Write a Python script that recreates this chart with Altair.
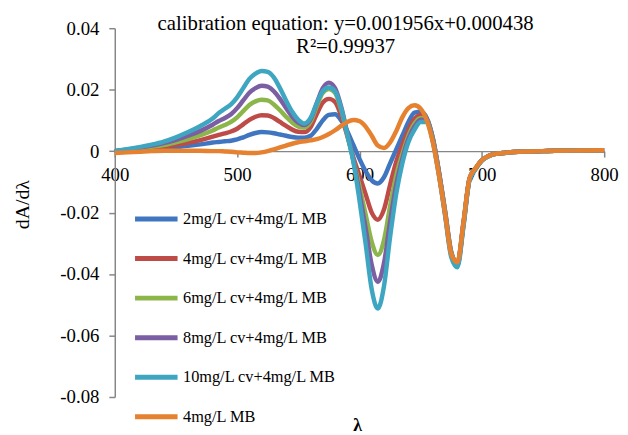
import altair as alt
import pandas as pd

wavelength = [400, 410, 420, 430, 440, 450, 460, 470, 480,
              485, 490, 495, 500, 505, 510, 515, 520, 525, 530,
              535, 540, 545, 550, 555, 560, 565, 570, 575, 580,
              585, 590, 595, 600, 605, 610, 615, 620, 625, 630,
              635, 640, 645, 650, 655, 660, 665, 670, 675, 680,
              685, 690, 695, 700, 705, 710,
              720, 730, 740, 750, 760, 780, 800]

cv2 = [0.0000, 0.0002, 0.0004, 0.0006, 0.0009, 0.0013, 0.0017, 0.0022, 0.0028,
       0.0030, 0.0032, 0.0034, 0.0038, 0.0045, 0.0053, 0.0059, 0.0062, 0.0061, 0.0058,
       0.0054, 0.0050, 0.0046, 0.0044, 0.0044, 0.0050, 0.0072, 0.0100, 0.0118, 0.0120,
       0.0100, 0.0065, 0.0020, -0.0025, -0.0065, -0.0095, -0.0105, -0.0085, -0.0040, 0.0005,
       0.0050, 0.0095, 0.0125, 0.0128, 0.0108, 0.0042, -0.0068, -0.0195, -0.0328, -0.0365,
       -0.0232, -0.0088, -0.0055, -0.0030, -0.0017, -0.0010,
       -0.0005, -0.0002, -0.0001, 0.0000, 0.0001, 0.0002, 0.0003]

cv4 = [0.0000, 0.0003, 0.0006, 0.0010, 0.0014, 0.0020, 0.0027, 0.0036, 0.0047,
       0.0053, 0.0058, 0.0064, 0.0073, 0.0087, 0.0102, 0.0112, 0.0117, 0.0116, 0.0108,
       0.0095, 0.0082, 0.0070, 0.0063, 0.0062, 0.0078, 0.0120, 0.0158, 0.0170, 0.0160,
       0.0115, 0.0050, -0.0020, -0.0080, -0.0140, -0.0200, -0.0223, -0.0190, -0.0110, -0.0035,
       0.0020, 0.0070, 0.0105, 0.0118, 0.0103, 0.0040, -0.0070, -0.0198, -0.0330, -0.0366,
       -0.0235, -0.0089, -0.0056, -0.0030, -0.0017, -0.0010,
       -0.0005, -0.0002, -0.0001, 0.0000, 0.0001, 0.0002, 0.0003]

cv6 = [0.0000, 0.0004, 0.0009, 0.0014, 0.0020, 0.0029, 0.0039, 0.0052, 0.0067,
       0.0077, 0.0085, 0.0095, 0.0110, 0.0130, 0.0150, 0.0162, 0.0167, 0.0165, 0.0152,
       0.0133, 0.0112, 0.0093, 0.0080, 0.0077, 0.0095, 0.0145, 0.0190, 0.0202, 0.0190,
       0.0135, 0.0055, -0.0030, -0.0115, -0.0205, -0.0295, -0.0338, -0.0290, -0.0180, -0.0080,
       -0.0010, 0.0050, 0.0090, 0.0108, 0.0100, 0.0038, -0.0072, -0.0200, -0.0332, -0.0368,
       -0.0237, -0.0090, -0.0056, -0.0030, -0.0017, -0.0010,
       -0.0005, -0.0002, -0.0001, 0.0000, 0.0001, 0.0002, 0.0003]

cv8 = [0.0000, 0.0005, 0.0011, 0.0018, 0.0026, 0.0037, 0.0050, 0.0066, 0.0086,
       0.0098, 0.0108, 0.0120, 0.0140, 0.0165, 0.0190, 0.0205, 0.0213, 0.0210, 0.0195,
       0.0170, 0.0140, 0.0112, 0.0093, 0.0085, 0.0103, 0.0155, 0.0205, 0.0223, 0.0205,
       0.0145, 0.0060, -0.0030, -0.0135, -0.0250, -0.0370, -0.0425, -0.0365, -0.0230, -0.0110,
       -0.0025, 0.0040, 0.0080, 0.0102, 0.0098, 0.0035, -0.0075, -0.0205, -0.0338, -0.0372,
       -0.0240, -0.0091, -0.0057, -0.0030, -0.0017, -0.0010,
       -0.0005, -0.0002, -0.0001, 0.0000, 0.0001, 0.0002, 0.0003]

cv10 = [0.0000, 0.0006, 0.0013, 0.0021, 0.0031, 0.0045, 0.0062, 0.0082, 0.0106,
        0.0124, 0.0138, 0.0152, 0.0175, 0.0205, 0.0235, 0.0252, 0.0261, 0.0258, 0.0240,
        0.0205, 0.0165, 0.0128, 0.0102, 0.0090, 0.0108, 0.0155, 0.0195, 0.0207, 0.0195,
        0.0140, 0.0055, -0.0035, -0.0160, -0.0300, -0.0450, -0.0512, -0.0440, -0.0280, -0.0140,
        -0.0040, 0.0030, 0.0070, 0.0095, 0.0095, 0.0030, -0.0080, -0.0210, -0.0345, -0.0378,
        -0.0245, -0.0093, -0.0058, -0.0031, -0.0018, -0.0010,
        -0.0005, -0.0002, -0.0001, 0.0000, 0.0001, 0.0002, 0.0003]

mb4 = [-0.0006, -0.0004, -0.0002, 0.0000, 0.0001, 0.0001, 0.0001, 0.0001, 0.0000,
       0.0000, -0.0001, -0.0002, -0.0004, -0.0005, -0.0006, -0.0006, -0.0004, 0.0000, 0.0006,
       0.0012, 0.0018, 0.0024, 0.0029, 0.0032, 0.0035, 0.0039, 0.0046, 0.0056, 0.0068,
       0.0082, 0.0095, 0.0101, 0.0098, 0.0080, 0.0050, 0.0018, 0.0010, 0.0028, 0.0065,
       0.0110, 0.0140, 0.0149, 0.0138, 0.0100, 0.0028, -0.0080, -0.0205, -0.0335, -0.0362,
       -0.0232, -0.0088, -0.0055, -0.0030, -0.0017, -0.0010,
       -0.0005, -0.0002, -0.0001, 0.0000, 0.0001, 0.0002, 0.0003]

series_names = ["2mg/L cv+4mg/L MB", "4mg/L cv+4mg/L MB", "6mg/L cv+4mg/L MB",
                "8mg/L cv+4mg/L MB", "10mg/L cv+4mg/L MB", "4mg/L MB"]
series_values = [cv2, cv4, cv6, cv8, cv10, mb4]
colors = ["#3F76BF", "#BE4B48", "#8CB54A", "#7B5FA2", "#3FA6C2", "#E5812F"]

y_ticks = [-0.08, -0.06, -0.04, -0.02, 0, 0.02, 0.04]
x_ticks = [400, 500, 600, 700, 800]

rows = []
for name, vals in zip(series_names, series_values):
    for i, (w, v) in enumerate(zip(wavelength, vals)):
        rows.append({"wavelength": w, "value": v, "series": name, "idx": i})
df = pd.DataFrame(rows)

W, H = 495, 373
YMIN, YMAX = -0.08, 0.04
zero_off = -H * (0 - YMIN) / (YMAX - YMIN)
axis_y_pos = H + zero_off

FONT = "Liberation Serif"
FONT_EXPR = alt.ExprRef(expr="'Liberation Serif'")
GRAY = "#868686"

chart = alt.Chart(df).mark_line(strokeWidth=4.5, interpolate="monotone").encode(
    x=alt.X("wavelength:Q",
            scale=alt.Scale(domain=[400, 800], nice=False, zero=False),
            axis=alt.Axis(values=x_ticks, format="d", offset=zero_off,
                          title="λ", titleX=245, titleY=407 - axis_y_pos,
                          titleAlign="center", titleBaseline="alphabetic",
                          titleFont=FONT_EXPR, titleFontSize=18, titleFontWeight="bold",
                          labelFont=FONT_EXPR, labelFontSize=19,
                          labelPadding=9, labelFlush=False, labelOverlap=False,
                          tickSize=6, grid=False)),
    y=alt.Y("value:Q",
            scale=alt.Scale(domain=[YMIN, YMAX], nice=False, zero=False),
            axis=alt.Axis(values=y_ticks,
                          labelExpr="datum.value == 0 ? '0' : (datum.value < 0 ? '-' : '') + format(abs(datum.value), '.2f')",
                          title="dA/dλ", titleX=-93, titleY=178, titleAngle=270,
                          titleAlign="center", titleBaseline="middle",
                          titleFont=FONT_EXPR, titleFontSize=20, titleFontWeight="normal",
                          labelFont=FONT_EXPR, labelFontSize=19,
                          labelPadding=10, labelFlush=False, labelOverlap=False,
                          tickSize=6, grid=False)),
    color=alt.Color("series:N",
                    scale=alt.Scale(domain=series_names, range=colors),
                    sort=series_names,
                    legend=alt.Legend(orient="none", legendX=18, legendY=169,
                                      title=None, padding=0, rowPadding=6,
                                      symbolType="stroke", symbolSize=1849,
                                      symbolStrokeWidth=5, symbolOpacity=1,
                                      labelFont=FONT, labelFontSize=16.5,
                                      labelColor="#000000", labelOffset=3)),
    order="idx:Q",
).properties(
    width=W, height=H,
    autosize=alt.AutoSizeParams(type="none"),
    padding={"left": 108, "top": 18, "right": 16, "bottom": 36},
    title=alt.TitleParams(
        text=["calibration equation: y=0.001956x+0.000438", "R²=0.99937"],
        font=FONT, fontSize=21, fontWeight="normal", color="#000000",
        anchor="middle", frame="group", dx=-14, offset=-38, lineHeight=23,
    ),
).configure(
    font=FONT,
    style={"guide-label": {"font": FONT}, "guide-title": {"font": FONT}},
).configure_view(stroke=None).configure_axis(
    labelColor="#000000", titleColor="#000000",
    domainColor=GRAY, tickColor=GRAY, domainWidth=1.5, tickWidth=1.5,
)

chart.save("out.html", embed_options={"renderer": "svg", "actions": False})
